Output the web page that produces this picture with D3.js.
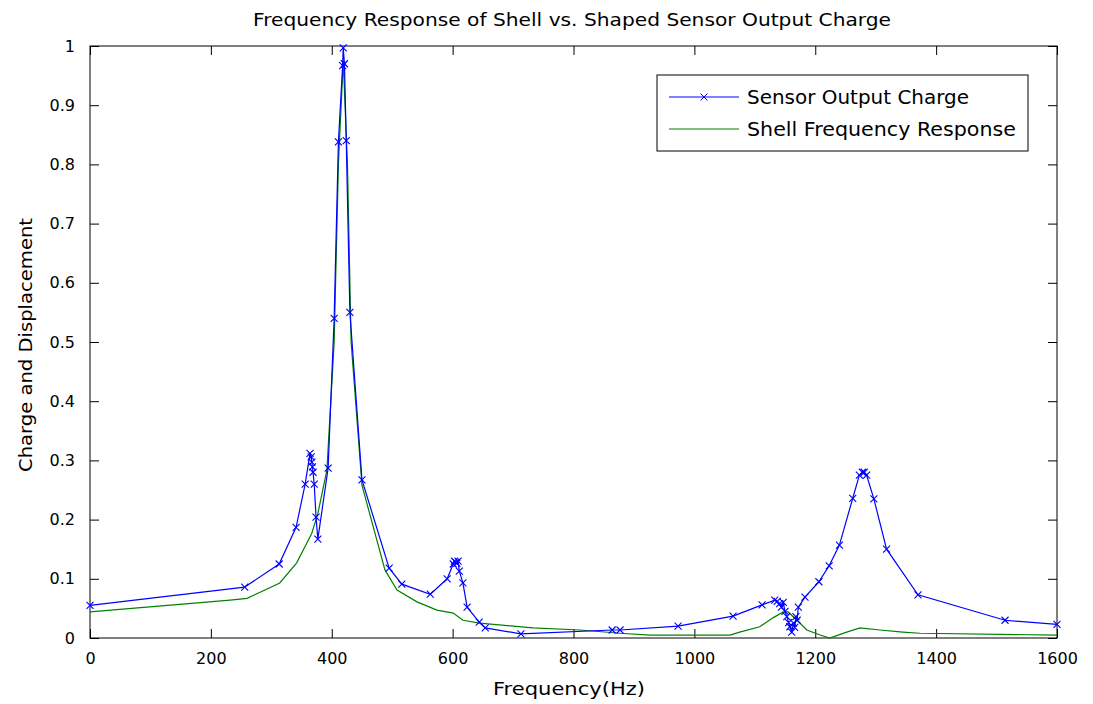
<!DOCTYPE html>
<html>
<head>
<meta charset="utf-8">
<script src="https://cdn.jsdelivr.net/npm/d3@7"></script>
<style>
  body { margin: 0; background: #fff; }
  text { font-family: "DejaVu Sans", "Liberation Sans", Arial, sans-serif; fill: #000; }
</style>
</head>
<body>
<div id="chart"></div>
<script>
// Sensor output charge (blue, x markers)
const sensorFreq = [0, 256, 313, 341, 356, 364, 366, 367, 368, 369, 371, 374, 377, 394, 404, 411, 418, 419, 421, 424, 430, 450, 495, 516, 563, 591, 601, 603, 605, 607, 609, 611, 617, 624, 644, 654, 713, 864, 877, 973, 1064, 1112, 1133, 1137, 1141, 1144, 1147, 1150, 1153, 1156, 1158, 1161, 1164, 1166, 1168, 1170, 1172, 1183, 1206, 1223, 1240, 1262, 1273, 1278, 1281, 1285, 1297, 1318, 1370, 1514, 1600];
const sensorVal  = [0.055, 0.086, 0.125, 0.187, 0.26, 0.312, 0.306, 0.297, 0.289, 0.28, 0.26, 0.204, 0.167, 0.287, 0.54, 0.838, 0.967, 0.997, 0.97, 0.84, 0.55, 0.267, 0.118, 0.091, 0.074, 0.1, 0.125, 0.13, 0.128, 0.126, 0.13, 0.113, 0.093, 0.052, 0.027, 0.017, 0.007, 0.0135, 0.0135, 0.02, 0.037, 0.056, 0.064, 0.062, 0.058, 0.052, 0.06, 0.045, 0.036, 0.026, 0.019, 0.01, 0.025, 0.018, 0.036, 0.03, 0.052, 0.069, 0.095, 0.122, 0.157, 0.236, 0.275, 0.28, 0.28, 0.275, 0.235, 0.15, 0.073, 0.03, 0.023];

// Shell frequency response (green line)
const shellFreq = [0, 232, 260, 314, 342, 367, 377, 392, 404, 411, 419, 426, 432, 450, 488, 508, 541, 574, 601, 617, 645, 733, 811, 877, 927, 1059, 1075, 1108, 1130, 1147, 1155, 1170, 1186, 1208, 1224, 1252, 1274, 1307, 1345, 1373, 1600];
const shellVal  = [0.044, 0.064, 0.067, 0.093, 0.127, 0.177, 0.21, 0.284, 0.5, 0.8, 0.975, 0.8, 0.5, 0.258, 0.115, 0.081, 0.061, 0.047, 0.042, 0.03, 0.025, 0.017, 0.0135, 0.008, 0.005, 0.005, 0.01, 0.019, 0.034, 0.044, 0.044, 0.03, 0.0135, 0.005, 0.0, 0.01, 0.017, 0.0135, 0.01, 0.008, 0.005];

const xTicks = [0, 200, 400, 600, 800, 1000, 1200, 1400, 1600];
const yTicks = [0, 0.1, 0.2, 0.3, 0.4, 0.5, 0.6, 0.7, 0.8, 0.9, 1];

const width = 1093, height = 704;
const margin = { top: 46, right: 36, bottom: 66, left: 90 };
const innerWidth = width - margin.left - margin.right;
const innerHeight = height - margin.top - margin.bottom;

const svg = d3.select("#chart").append("svg")
  .attr("width", width).attr("height", height);

const g = svg.append("g")
  .attr("transform", `translate(${margin.left},${margin.top})`);

const xScale = d3.scaleLinear().domain([0, 1600]).range([0, innerWidth]);
const yScale = d3.scaleLinear().domain([0, 1]).range([innerHeight, 0]);

const sensor = sensorFreq.map((f, i) => ({ f, v: sensorVal[i] }));
const shell = shellFreq.map((f, i) => ({ f, v: shellVal[i] }));

const line = d3.line().x(d => xScale(d.f)).y(d => yScale(d.v));

// Axes (ticks inside, on all four sides like MATLAB)
const tickLen = 9;
g.append("g").attr("class", "axis")
  .attr("transform", `translate(0,${innerHeight})`)
  .call(d3.axisBottom(xScale).tickValues(xTicks).tickSizeInner(-tickLen).tickSizeOuter(0).tickPadding(tickLen + 6).tickFormat(d3.format("d")));
g.append("g").attr("class", "axis bare")
  .call(d3.axisTop(xScale).tickValues(xTicks).tickSizeInner(-tickLen).tickSizeOuter(0));
g.append("g").attr("class", "axis")
  .call(d3.axisLeft(yScale).tickValues(yTicks).tickSizeInner(-tickLen).tickSizeOuter(0).tickPadding(tickLen + 6).tickFormat(d => d === 0 || d === 1 ? d3.format("d")(d) : d3.format(".1f")(d)));
g.append("g").attr("class", "axis bare")
  .attr("transform", `translate(${innerWidth},0)`)
  .call(d3.axisRight(yScale).tickValues(yTicks).tickSizeInner(-tickLen).tickSizeOuter(0));

g.selectAll(".bare text").remove();
g.selectAll(".axis .domain").remove();
g.selectAll(".axis line").attr("stroke", "#000");
g.selectAll(".axis text")
  .style("font-family", "'DejaVu Sans', Arial, sans-serif")
  .style("font-size", "16px").attr("fill", "#000");

g.append("rect")
  .attr("width", innerWidth).attr("height", innerHeight)
  .attr("fill", "none").attr("stroke", "#000").attr("stroke-width", 1);

// Lines
g.append("path").datum(shell)
  .attr("d", line).attr("fill", "none")
  .attr("stroke", "#008000").attr("stroke-width", 1.2);

g.append("path").datum(sensor)
  .attr("d", line).attr("fill", "none")
  .attr("stroke", "#0000ff").attr("stroke-width", 1.2);

const m = 3.5;
const cross = `M${-m},${-m}L${m},${m}M${-m},${m}L${m},${-m}`;
g.append("g").selectAll("path")
  .data(sensor).join("path")
  .attr("transform", d => `translate(${xScale(d.f)},${yScale(d.v)})`)
  .attr("d", cross)
  .attr("stroke", "#0000ff").attr("stroke-width", 1.1).attr("fill", "none");

// Title and axis labels
svg.append("text")
  .attr("x", 572).attr("y", 26)
  .attr("text-anchor", "middle").style("font-size", "17px")
  .attr("textLength", 638).attr("lengthAdjust", "spacingAndGlyphs")
  .text("Frequency Response of Shell vs. Shaped Sensor Output Charge");

svg.append("text")
  .attr("x", 569).attr("y", 695)
  .attr("text-anchor", "middle").style("font-size", "17px")
  .attr("textLength", 152).attr("lengthAdjust", "spacingAndGlyphs")
  .text("Frequency(Hz)");

svg.append("text")
  .attr("transform", `translate(32,345) rotate(-90)`)
  .attr("text-anchor", "middle").style("font-size", "17px")
  .attr("textLength", 254).attr("lengthAdjust", "spacingAndGlyphs")
  .text("Charge and Displacement");

// Legend
const legend = svg.append("g").attr("transform", "translate(657,75)");
legend.append("rect")
  .attr("width", 371).attr("height", 76)
  .attr("fill", "#fff").attr("stroke", "#000");

const legendItems = [
  { name: "Sensor Output Charge", color: "#0000ff", marker: true, len: 222 },
  { name: "Shell Frequency Response", color: "#008000", marker: false, len: 269 }
];
legendItems.forEach((item, i) => {
  const y = 22 + i * 32;
  legend.append("line")
    .attr("x1", 12).attr("x2", 82).attr("y1", y).attr("y2", y)
    .attr("stroke", item.color).attr("stroke-width", 1.2);
  if (item.marker) {
    legend.append("path")
      .attr("transform", `translate(47,${y})`)
      .attr("d", cross).attr("stroke", item.color).attr("fill", "none");
  }
  legend.append("text")
    .attr("x", 90).attr("y", y + 7)
    .style("font-size", "19px")
    .attr("textLength", item.len).attr("lengthAdjust", "spacingAndGlyphs")
    .text(item.name);
});
</script>
</body>
</html>
